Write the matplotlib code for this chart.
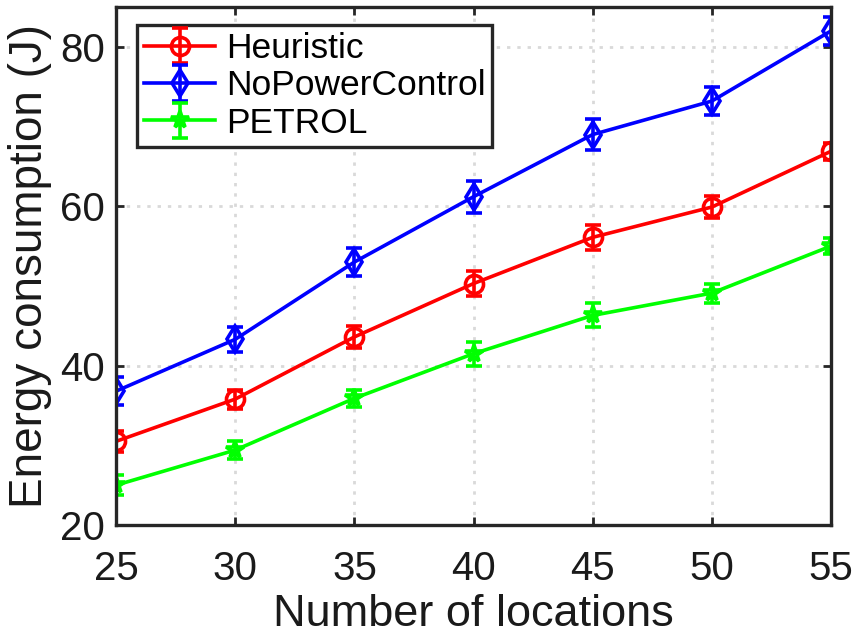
import matplotlib
matplotlib.use("Agg")
import matplotlib.pyplot as plt

plt.rcParams['font.family'] = ['Liberation Sans', 'DejaVu Sans']

locations = [25, 30, 35, 40, 45, 50, 55]
heuristic = [30.5, 35.8, 43.6, 50.3, 56.1, 59.9, 66.9]
heuristic_err = [1.3, 1.2, 1.4, 1.6, 1.6, 1.4, 1.1]
nopower = [36.8, 43.3, 53.0, 61.2, 69.0, 73.2, 82.0]
nopower_err = [1.8, 1.6, 1.7, 2.0, 2.0, 1.8, 1.8]
petrol = [25.0, 29.4, 35.9, 41.5, 46.3, 49.1, 55.0]
petrol_err = [1.3, 1.1, 1.1, 1.5, 1.5, 1.2, 1.0]
xticks = [25, 30, 35, 40, 45, 50, 55]
yticks = [20, 40, 60, 80]

fig = plt.figure(figsize=(8.54, 6.41), dpi=100)
ax = fig.add_axes([0.136, 0.181, 0.837, 0.808])

kw = dict(linewidth=2.6, elinewidth=2.6, capsize=6, capthick=2.6,
          markersize=13, markeredgewidth=2.6, markerfacecolor='none')
ax.errorbar(locations, heuristic, yerr=heuristic_err, color=(1, 0, 0), marker='o',
            label='Heuristic', **kw)
ax.errorbar(locations, nopower, yerr=nopower_err, color=(0, 0, 1), marker='d',
            label='NoPowerControl', **kw)
ax.errorbar(locations, petrol, yerr=petrol_err, color=(0, 1, 0), marker='*',
            label='PETROL', **kw)

ax.set_xlim(25, 55)
ax.set_ylim(20, 85)
ax.set_xticks(xticks)
ax.set_yticks(yticks)
ax.tick_params(direction='in', length=6, width=2, labelsize=29, colors='#262626',
               top=True, right=True)
ax.tick_params(axis='x', pad=18)
ax.tick_params(axis='y', pad=8)
for lab in ax.get_xticklabels() + ax.get_yticklabels():
    lab.set_color('#1a1a1a')
ax.grid(True, linestyle=(0, (1.2, 2.5)), color='#d9d9d9', linewidth=2)
for s in ax.spines.values():
    s.set_linewidth(2.4)
    s.set_color('#262626')
ax.set_xlabel('Number of locations', fontsize=32.5, color='#1a1a1a', labelpad=4)
ax.set_ylabel('Energy consumption (J)', fontsize=33, color='#1a1a1a', labelpad=6)

leg = ax.legend(loc='upper left', fontsize=25.5, frameon=True, fancybox=False,
                borderpad=0.2, handlelength=2.0, handletextpad=0.3,
                labelspacing=0.12, borderaxespad=0.0,
                bbox_to_anchor=(21 / 716, 1 - 18 / 518))
leg.get_frame().set_edgecolor('#262626')
leg.get_frame().set_linewidth(2.4)
leg.get_frame().set_alpha(1)

fig.savefig('out.png', dpi=100)
